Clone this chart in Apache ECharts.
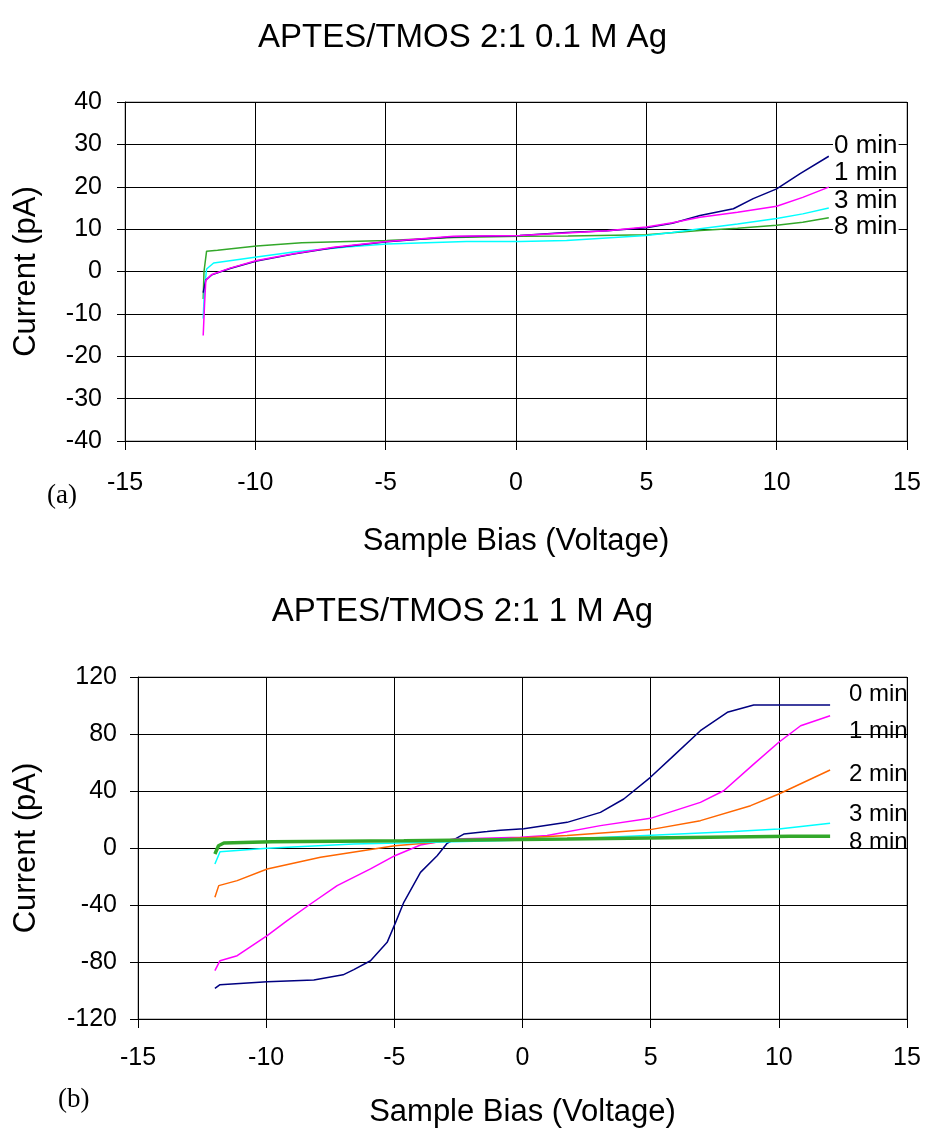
<!DOCTYPE html>
<html>
<head>
<meta charset="utf-8">
<script src="https://cdn.jsdelivr.net/npm/echarts@6/dist/echarts.min.js"></script>
<style>
  html, body { margin: 0; padding: 0; background: #fff; }
  #chart { width: 925px; height: 1132px; }
</style>
</head>
<body>
<div id="chart"></div>
<script>
// (a) 0.1 M Ag  -- [bias V, current pA]
const topNames = ['0 min', '1 min', '3 min', '8 min']
const top0 = [[-12,-5],[-11.9,-2.0],[-11.67,-0.8],[-10.97,0.7],[-9.95,2.5],[-8.54,4.1],[-7,5.6],[-4.96,7.0],[-2.4,8.2],[0.15,8.5],[1.94,9.2],[3.5,9.6],[5,10.3],[6,11.4],[7.06,13.2],[8.34,14.8],[9.1,17.2],[10,19.5],[10.9,23.1],[12,27.2]]
const top1 = [[-12,-15.1],[-11.95,-8],[-11.9,-2.1],[-11.67,-0.7],[-10.97,0.8],[-9.95,2.6],[-8.54,4.2],[-7,5.7],[-4.96,7.1],[-2.4,8.3],[0.15,8.5],[1.94,9.1],[3.5,9.6],[5,10.5],[6,11.5],[7.06,12.8],[8.5,14],[10,15.4],[11,17.5],[12,19.9]]
const top3 = [[-12,-11.1],[-11.95,-4],[-11.87,0.6],[-11.6,2.0],[-9.95,3.4],[-8.54,4.6],[-6.5,5.8],[-4.96,6.5],[-1.9,7.1],[0.15,7.1],[1.94,7.3],[5,8.5],[6,9.2],[7.06,10.1],[8.5,11.2],[10,12.5],[11,13.6],[12,15.0]]
const top8 = [[-12,-6.5],[-11.97,0],[-11.87,4.8],[-11.45,5.0],[-9.95,6.0],[-8.22,6.8],[-4.96,7.3],[-2.4,8.0],[0.15,8.3],[2,8.4],[5,8.7],[7.06,9.7],[8.5,10.2],[10,10.9],[11,11.6],[12,12.7]]

// (b) 1 M Ag
const botNames = ['0 min', '1 min', '2 min', '3 min', '8 min']
const bot0 = [[-12,-98.5],[-11.8,-95.9],[-9.96,-93.8],[-8.14,-92.6],[-7,-89],[-6.58,-85.4],[-5.93,-79.1],[-5.28,-66.2],[-4.95,-52.2],[-4.63,-38.1],[-3.98,-17.1],[-3.33,-5.4],[-2.94,3.3],[-2.29,9.8],[-1.38,11.5],[-0.86,12.5],[0.05,13.5],[1.74,18.0],[3.04,25.0],[3.95,34.4],[4.99,49.6],[5.9,64.8],[6.94,82.3],[7.99,95.2],[9.02,100.4],[12,100.4]]
const bot1 = [[-12,-86.1],[-11.8,-79.1],[-11.13,-75.6],[-9.96,-61.5],[-9.18,-51.0],[-8.27,-39.3],[-7.23,-26.4],[-5.93,-14.7],[-4.98,-5.4],[-3.98,2.1],[-2.68,6.3],[-0.08,7.5],[0.96,8.7],[3.04,15.7],[4.99,20.8],[6.94,32.0],[7.85,40.2],[9.02,58.9],[10,74.2],[10.85,85.8],[12,92.8]]
const bot2 = [[-12,-34.6],[-11.85,-26.4],[-11.13,-22.9],[-9.96,-14.7],[-7.88,-6.5],[-4.98,1.6],[-2.68,5.1],[-0.86,6.3],[1.74,8.7],[4.99,12.9],[6.94,19.2],[8.9,29.7],[10,37.9],[12,54.7]]
const bot3 = [[-12,-11.2],[-11.8,-2.6],[-9.96,-0.2],[-6.58,2.8],[-2.68,4.4],[1.74,6.3],[5.25,9.1],[8.24,11.5],[10,13.3],[12,17.3]]
const bot8 = [[-12,-4.2],[-11.86,1.6],[-11.65,3.5],[-9.77,4.4],[-4.63,5.1],[1.74,6.3],[4.93,7.0],[10.46,8.2],[12,8.2]]

const FONT = '"Liberation Sans", Arial, sans-serif'
const navy = '#000080', magenta = '#ff00ff', cyan = '#00ffff', green = '#33a82a', orange = '#ff6600'

const chart = echarts.init(document.getElementById('chart'))

// common axis pieces
function xAxisOf(gridIndex, labelMargin, nameGap){
    return {
        gridIndex, type: 'value', min: -15, max: 15, interval: 5,
        name: 'Sample Bias (Voltage)', nameLocation: 'middle', nameGap,
        nameTextStyle: { fontFamily: FONT, fontSize: 31, color: '#000' },
        axisLine: { show: true, onZero: false, lineStyle: { color: '#000', width: 1 } },
        axisTick: { show: true, inside: false, length: 9, lineStyle: { color: '#000' } },
        axisLabel: { fontFamily: FONT, fontSize: 25, color: '#000', margin: labelMargin },
        splitLine: { show: true, lineStyle: { color: '#000', width: 1 } }
    }
}
function yAxisOf(gridIndex, min, max, interval, labelMargin, nameGap){
    return {
        gridIndex, type: 'value', min, max, interval,
        name: 'Current (pA)', nameLocation: 'middle', nameGap,
        nameTextStyle: { fontFamily: FONT, fontSize: 31, color: '#000' },
        axisLine: { show: true, onZero: false, lineStyle: { color: '#000', width: 1 } },
        axisTick: { show: true, inside: false, length: 8, lineStyle: { color: '#000' } },
        axisLabel: { fontFamily: FONT, fontSize: 25, color: '#000', margin: labelMargin },
        splitLine: { show: true, lineStyle: { color: '#000', width: 1 } }
    }
}
function line(name, data, color, idx, width){
    return {
        name, type: 'line', data, xAxisIndex: idx, yAxisIndex: idx,
        showSymbol: false, symbol: 'none', animation: false,
        lineStyle: { color, width: width || 1.5 }, z: 3
    }
}

// right-end labels
const topLabelY = [147, 174, 202, 228]
const botLabelY = [695, 732, 775, 815, 843]
const graphics = []
topNames.forEach((t, i) => graphics.push({
    type: 'text', left: 833, top: topLabelY[i] - 14, z: 10,
    style: { text: t, fontFamily: FONT, fontSize: 26, fill: '#000', backgroundColor: '#fff', padding: [0, 1] }
}))
botNames.forEach((t, i) => graphics.push({
    type: 'text', left: 849, top: botLabelY[i] - 13, z: 10,
    style: { text: t, fontFamily: FONT, fontSize: 24, fill: '#000' }
}))
graphics.push({ type: 'text', left: 47, top: 482, style: { text: '(a)', fontFamily: '"Liberation Serif", serif', fontSize: 27, fill: '#000' } })
graphics.push({ type: 'text', left: 58, top: 1086, style: { text: '(b)', fontFamily: '"Liberation Serif", serif', fontSize: 27, fill: '#000' } })

chart.setOption({
    backgroundColor: '#fff',
    animation: false,
    title: [
        { text: 'APTES/TMOS 2:1 0.1 M Ag', left: 'center', top: 16, textStyle: { fontFamily: FONT, fontSize: 33, fontWeight: 'normal', color: '#000' } },
        { text: 'APTES/TMOS 2:1 1 M Ag', left: 'center', top: 590, textStyle: { fontFamily: FONT, fontSize: 33, fontWeight: 'normal', color: '#000' } }
    ],
    grid: [
        { left: 125, top: 102, width: 782, height: 339, show: true, borderColor: '#888', borderWidth: 1, backgroundColor: '#fff' },
        { left: 138, top: 677, width: 769, height: 342, show: true, borderColor: '#888', borderWidth: 1, backgroundColor: '#fff' }
    ],
    xAxis: [xAxisOf(0, 30, 85), xAxisOf(1, 27, 78)],
    yAxis: [yAxisOf(0, -40, 40, 10, 23, 83), yAxisOf(1, -120, 120, 40, 21, 96)],
    series: [
        line(topNames[3], top8, green, 0),
        line(topNames[2], top3, cyan, 0),
        line(topNames[0], top0, navy, 0),
        line(topNames[1], top1, magenta, 0),
        line(botNames[0], bot0, navy, 1),
        line(botNames[1], bot1, magenta, 1),
        line(botNames[2], bot2, orange, 1),
        line(botNames[3], bot3, cyan, 1),
        line(botNames[4], bot8, green, 1, 3.5)
    ],
    graphic: graphics
})
</script>
</body>
</html>
